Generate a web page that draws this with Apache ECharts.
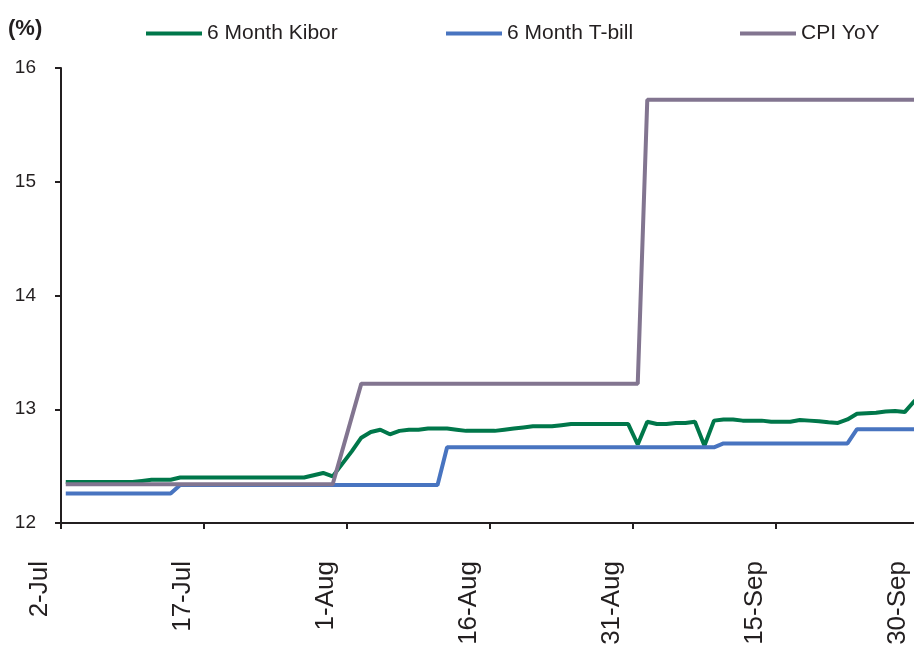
<!DOCTYPE html>
<html>
<head>
<meta charset="utf-8">
<script src="https://cdn.jsdelivr.net/npm/echarts@6/dist/echarts.min.js"></script>
<style>
  html, body { margin: 0; padding: 0; background: #fff; }
  #chart { width: 914px; height: 651px; }
</style>
</head>
<body>
<div id="chart"></div>
<script>
// daily categories 2-Jul .. 30-Sep
var months = ['Jul', 'Aug', 'Sep'];
var monthDays = [[2, 31], [1, 31], [1, 30]];
var dates = [];
for (var m = 0; m < months.length; m++) {
    for (var d = monthDays[m][0]; d <= monthDays[m][1]; d++) {
        dates.push(d + '-' + months[m]);
    }
}

var kibor = [
    12.36, 12.36, 12.36, 12.36, 12.36, 12.36, 12.36, 12.36, 12.37, 12.38,
    12.38, 12.38, 12.40, 12.40, 12.40, 12.40, 12.40, 12.40, 12.40, 12.40,
    12.40, 12.40, 12.40, 12.40, 12.40, 12.40, 12.42, 12.44, 12.41, 12.52,
    12.63, 12.75, 12.80, 12.82, 12.78, 12.81, 12.82, 12.82, 12.83, 12.83,
    12.83, 12.82, 12.81, 12.81, 12.81, 12.81, 12.82, 12.83, 12.84, 12.85,
    12.85, 12.85, 12.86, 12.87, 12.87, 12.87, 12.87, 12.87, 12.87, 12.87,
    12.69, 12.89, 12.87, 12.87, 12.88, 12.88, 12.89, 12.68, 12.90, 12.91,
    12.91, 12.90, 12.90, 12.90, 12.89, 12.89, 12.89, 12.905, 12.90, 12.895,
    12.885, 12.88, 12.91, 12.96, 12.965, 12.97, 12.98, 12.985, 12.975, 13.07,
    13.12
];

var tbill = [
    12.26, 12.26, 12.26, 12.26, 12.26, 12.26, 12.26, 12.26, 12.26, 12.26,
    12.26, 12.26, 12.335, 12.335, 12.335, 12.335, 12.335, 12.335, 12.335, 12.335,
    12.335, 12.335, 12.335, 12.335, 12.335, 12.335, 12.335, 12.335, 12.335, 12.335,
    12.335, 12.335, 12.335, 12.335, 12.335, 12.335, 12.335, 12.335, 12.335, 12.335,
    12.665, 12.665, 12.665, 12.665, 12.665, 12.665, 12.665, 12.665, 12.665, 12.665,
    12.665, 12.665, 12.665, 12.665, 12.665, 12.665, 12.665, 12.665, 12.665, 12.665,
    12.665, 12.665, 12.665, 12.665, 12.665, 12.665, 12.665, 12.665, 12.665, 12.70,
    12.70, 12.70, 12.70, 12.70, 12.70, 12.70, 12.70, 12.70, 12.70, 12.70,
    12.70, 12.70, 12.70, 12.825, 12.825, 12.825, 12.825, 12.825, 12.825, 12.825,
    12.825
];

// monthly CPI, jumps joined across the missing days
var cpi = [
    12.34, 12.34, 12.34, 12.34, 12.34, 12.34, 12.34, 12.34, 12.34, 12.34,
    12.34, 12.34, 12.34, 12.34, 12.34, 12.34, 12.34, 12.34, 12.34, 12.34,
    12.34, 12.34, 12.34, 12.34, 12.34, 12.34, 12.34, 12.34, 12.34, null,
    null, 13.225, 13.225, 13.225, 13.225, 13.225, 13.225, 13.225, 13.225, 13.225,
    13.225, 13.225, 13.225, 13.225, 13.225, 13.225, 13.225, 13.225, 13.225, 13.225,
    13.225, 13.225, 13.225, 13.225, 13.225, 13.225, 13.225, 13.225, 13.225, 13.225,
    13.225, 15.72, 15.72, 15.72, 15.72, 15.72, 15.72, 15.72, 15.72, 15.72,
    15.72, 15.72, 15.72, 15.72, 15.72, 15.72, 15.72, 15.72, 15.72, 15.72,
    15.72, 15.72, 15.72, 15.72, 15.72, 15.72, 15.72, 15.72, 15.72, 15.72,
    15.72
];

var seriesNames = ['6 Month Kibor', '6 Month T-bill', 'CPI YoY'];
var colors = ['#00774a', '#4874c0', '#827590'];
var font = "'Liberation Sans', Arial, sans-serif";
var axisColor = '#231f20';

var myChart = echarts.init(document.getElementById('chart'));

function legendAt(name, left) {
    return {
        data: [name],
        left: left,
        top: 23,
        padding: 0,
        icon: 'rect',
        itemWidth: 56,
        itemHeight: 4,
        textStyle: { fontFamily: font, fontSize: 21, color: axisColor }
    };
}

myChart.setOption({
    animation: false,
    color: colors,
    title: {
        text: '(%)',
        left: 8,
        top: 18,
        padding: 0,
        textStyle: { fontFamily: font, fontSize: 22, fontWeight: 'bold', color: axisColor }
    },
    legend: [
        legendAt(seriesNames[0], 146),
        legendAt(seriesNames[1], 446),
        legendAt(seriesNames[2], 740)
    ],
    grid: {
        left: 61,
        top: 68,
        width: 867.5,   // 91 days, plot runs past the right edge
        height: 455,
        outerBoundsMode: 'none'
    },
    xAxis: {
        type: 'category',
        data: dates,
        boundaryGap: true,
        axisLine: { lineStyle: { color: axisColor, width: 2 } },
        axisTick: { show: true, interval: 14, length: 6, lineStyle: { color: axisColor, width: 2 } },
        axisLabel: {
            interval: 14,
            rotate: 90,
            margin: 38,
            hideOverlap: false,
            formatter: '{a|{value}}',
            rich: {
                a: {
                    fontFamily: font,
                    fontSize: 26,
                    color: axisColor,
                    padding: [0, 0, 52, 0]
                }
            }
        },
        splitLine: { show: false }
    },
    yAxis: {
        type: 'value',
        min: 12,
        max: 16,
        interval: 1,
        axisLine: { show: true, lineStyle: { color: axisColor, width: 2 } },
        axisTick: { show: true, length: 6, lineStyle: { color: axisColor, width: 2 } },
        axisLabel: { margin: 25, fontFamily: font, fontSize: 19, color: axisColor },
        splitLine: { show: false }
    },
    series: [
        {
            name: seriesNames[0],
            type: 'line',
            data: kibor,
            showSymbol: false,
            lineStyle: { width: 4, color: colors[0] }
        },
        {
            name: seriesNames[1],
            type: 'line',
            data: tbill,
            showSymbol: false,
            lineStyle: { width: 4, color: colors[1] }
        },
        {
            name: seriesNames[2],
            type: 'line',
            data: cpi,
            connectNulls: true,
            showSymbol: false,
            lineStyle: { width: 4, color: colors[2] }
        }
    ]
});
</script>
</body>
</html>
